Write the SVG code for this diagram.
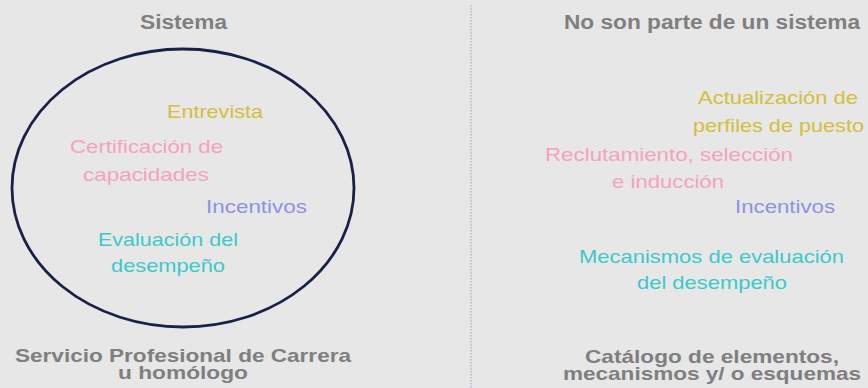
<svg xmlns="http://www.w3.org/2000/svg" width="868" height="388" viewBox="0 0 868 388">
<style>
.h{font-family:"Liberation Sans",Arial,sans-serif;font-weight:bold;font-size:20px;fill:#7f7f7f}
.f{font-family:"Liberation Sans",Arial,sans-serif;font-weight:bold;font-size:19px;fill:#7f7f7f}
.t{font-family:"Liberation Sans",Arial,sans-serif;font-size:18.5px}
.y{fill:#d2bf3c}.p{fill:#f4a3ba}.v{fill:#9090e6}.c{fill:#3ec9c9}
</style>
<rect width="868" height="388" fill="#e7e7e7"/>
<g id="connectors">
<line x1="471" y1="5" x2="471" y2="388" stroke="#9a9cc4" stroke-width="1" stroke-dasharray="1.5 1.5"/>
</g>
<g id="sistema-ellipse">
<ellipse cx="183" cy="188" rx="171" ry="139" fill="none" stroke="#1b2048" stroke-width="2.8"/>
</g>
<g id="header-left"><text class="h" x="140" y="28.5" textLength="87" lengthAdjust="spacingAndGlyphs">Sistema</text></g>
<g id="header-right"><text class="h" x="564" y="28.5" textLength="296" lengthAdjust="spacingAndGlyphs">No son parte de un sistema</text></g>
<g id="entrevista"><text class="t y" x="167" y="117.5" textLength="96" lengthAdjust="spacingAndGlyphs">Entrevista</text></g>
<g id="certificacion">
<text class="t p" x="70" y="153" textLength="153" lengthAdjust="spacingAndGlyphs">Certificación de</text>
<text class="t p" x="83" y="181" textLength="126" lengthAdjust="spacingAndGlyphs">capacidades</text>
</g>
<g id="incentivos-left"><text class="t v" x="206" y="213" textLength="101" lengthAdjust="spacingAndGlyphs">Incentivos</text></g>
<g id="evaluacion">
<text class="t c" x="98" y="245.5" textLength="140" lengthAdjust="spacingAndGlyphs">Evaluación del</text>
<text class="t c" x="111" y="272" textLength="114" lengthAdjust="spacingAndGlyphs">desempeño</text>
</g>
<g id="actualizacion">
<text class="t y" x="698" y="104" textLength="160" lengthAdjust="spacingAndGlyphs">Actualización de</text>
<text class="t y" x="693" y="132" textLength="171" lengthAdjust="spacingAndGlyphs">perfiles de puesto</text>
</g>
<g id="reclutamiento">
<text class="t p" x="545" y="161" textLength="248" lengthAdjust="spacingAndGlyphs">Reclutamiento, selección</text>
<text class="t p" x="612" y="188" textLength="112" lengthAdjust="spacingAndGlyphs">e inducción</text>
</g>
<g id="incentivos-right"><text class="t v" x="735" y="213" textLength="100" lengthAdjust="spacingAndGlyphs">Incentivos</text></g>
<g id="mecanismos">
<text class="t c" x="579" y="263" textLength="265" lengthAdjust="spacingAndGlyphs">Mecanismos de evaluación</text>
<text class="t c" x="637" y="289" textLength="150" lengthAdjust="spacingAndGlyphs">del desempeño</text>
</g>
<g id="footer-left">
<text class="f" x="15" y="362" textLength="336" lengthAdjust="spacingAndGlyphs">Servicio Profesional de Carrera</text>
<text class="f" x="118" y="378.5" textLength="130" lengthAdjust="spacingAndGlyphs">u homólogo</text>
</g>
<g id="footer-right">
<text class="f" x="585" y="363" textLength="254" lengthAdjust="spacingAndGlyphs">Catálogo de elementos,</text>
<text class="f" x="563" y="380" textLength="298" lengthAdjust="spacingAndGlyphs">mecanismos y/ o esquemas</text>
</g>
</svg>
